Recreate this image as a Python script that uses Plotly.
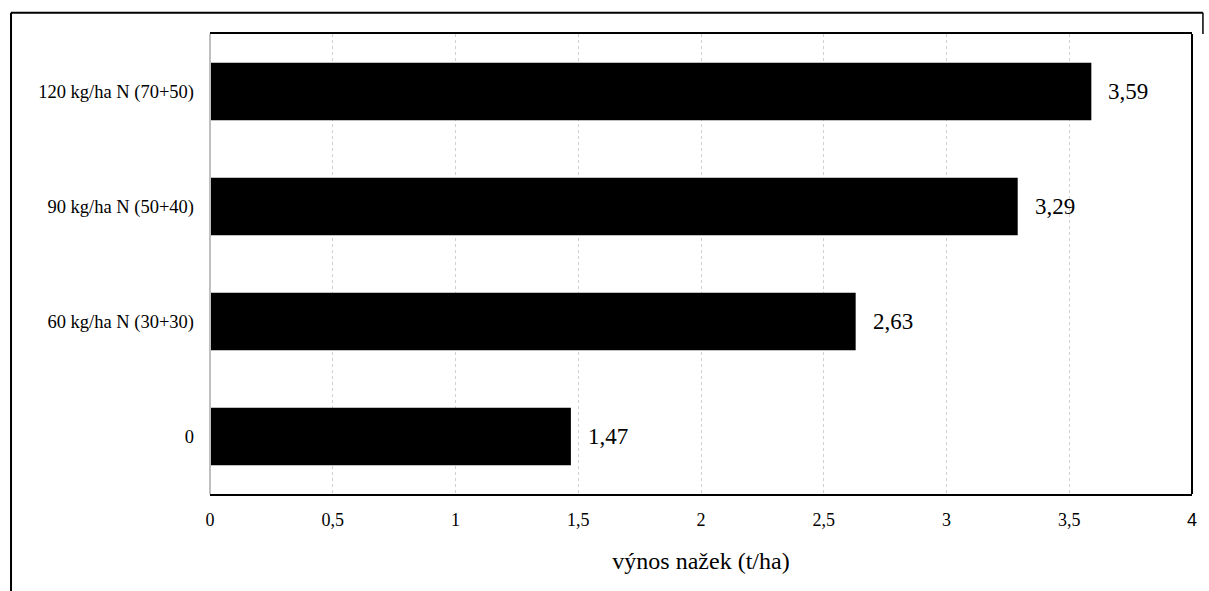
import plotly.graph_objects as go

# Yield of achenes by nitrogen dose
categories = ["0", "60 kg/ha N (30+30)", "90 kg/ha N (50+40)", "120 kg/ha N (70+50)"]
yields = [1.47, 2.63, 3.29, 3.59]
tick_vals = [0, 0.5, 1, 1.5, 2, 2.5, 3, 3.5, 4]
tick_text = ["0", "0,5", "1", "1,5", "2", "2,5", "3", "3,5",
             "<span style='font-family:Liberation Sans, Arial'>4</span>"]
x_title = "výnos nažek (t/ha)"

SERIF = "Liberation Serif, Times New Roman, serif"

W, H = 1209, 591
L, R, T, B = 210, 1197, 34, 494


def px_x(px):
    return (px - L) / (R - L)


def px_y(py):
    return (B - py) / (B - T)


fig = go.Figure(
    go.Bar(
        x=yields,
        y=categories,
        orientation="h",
        marker=dict(color="black", line=dict(width=0)),
        hoverinfo="x+y",
    )
)

# value labels to the right of each bar
for cat, v in zip(categories, yields):
    fig.add_annotation(
        x=v, y=cat, text=f"{v:.2f}".replace(".", ","),
        showarrow=False, xanchor="left", xshift=15,
        font=dict(family=SERIF, size=23, color="black"),
    )

shapes = [
    # grey left axis line
    dict(type="line", xref="paper", yref="paper", x0=0, x1=0, y0=0, y1=1,
         line=dict(color="#bfbfbf", width=2)),
    # black right edge of the plot area
    dict(type="line", xref="paper", yref="paper", x0=1, x1=1, y0=0, y1=1,
         line=dict(color="black", width=2)),
    # outer frame
    dict(type="line", xref="paper", yref="paper", x0=px_x(10), x1=px_x(10),
         y0=px_y(12.7), y1=px_y(620), line=dict(color="black", width=2)),
    dict(type="line", xref="paper", yref="paper", x0=px_x(10), x1=px_x(1208),
         y0=px_y(12.7), y1=px_y(12.7), line=dict(color="black", width=2)),
    dict(type="line", xref="paper", yref="paper", x0=px_x(1208), x1=px_x(1208),
         y0=px_y(12.7), y1=px_y(34), line=dict(color="black", width=1.5)),
]

fig.update_layout(
    width=W, height=H,
    margin=dict(l=L, r=W - R, t=T, b=H - B),
    paper_bgcolor="white", plot_bgcolor="white",
    bargap=0.5,
    showlegend=False,
    font=dict(family=SERIF, color="black"),
    shapes=shapes,
    xaxis=dict(
        range=[0, 4],
        tickvals=tick_vals, ticktext=tick_text,
        tickfont=dict(family=SERIF, size=18, color="black"),
        showgrid=True, gridcolor="#d0d0d0", griddash="dot", gridwidth=1,
        zeroline=False,
        showline=True, linecolor="black", linewidth=2, mirror=True,
        ticks="", ticklabelstandoff=8,
        title=dict(text=x_title, font=dict(family=SERIF, size=24, color="black"),
                   standoff=24),
        fixedrange=True,
    ),
    yaxis=dict(
        categoryorder="array", categoryarray=categories,
        tickfont=dict(family=SERIF, size=18.5, color="black"),
        showgrid=False, zeroline=False, showline=False,
        ticks="", ticklabelstandoff=15,
        fixedrange=True,
    ),
)

fig.write_html("out.html")
